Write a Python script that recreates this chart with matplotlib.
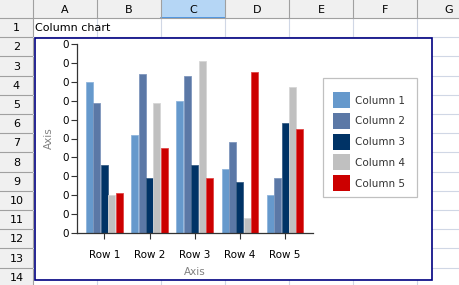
import numpy as np
import matplotlib
matplotlib.use('Agg')
import matplotlib.pyplot as plt
from matplotlib.patches import Rectangle
from matplotlib.ticker import FormatStrFormatter

# chart data (axis shown without decimals)
rows = ['Row 1', 'Row 2', 'Row 3', 'Row 4', 'Row 5']
series = ['Column 1', 'Column 2', 'Column 3', 'Column 4', 'Column 5']
col1 = [0.080, 0.052, 0.070, 0.034, 0.020]
col2 = [0.069, 0.084, 0.083, 0.048, 0.029]
col3 = [0.036, 0.029, 0.036, 0.027, 0.058]
col4 = [0.020, 0.069, 0.091, 0.008, 0.077]
col5 = [0.021, 0.045, 0.029, 0.085, 0.055]
colors = ['#6699cc', '#5b78a6', '#003366', '#c0c0c0', '#cc0000']
edges = ['#8fb5dc', '#7f97bd', '#3a5f86', '#d6d6d6', '#e04848']

# spreadsheet labels
col_names = ['A', 'B', 'C', 'D', 'E', 'F', 'G']
row_names = [str(i) for i in range(1, 15)]

W, H = 460, 285
fig = plt.figure(figsize=(W / 100, H / 100), dpi=100)
plt.rcParams['font.family'] = ['DejaVu Sans']
fs = 7.5

# ---- sheet background drawn in pixel coords
bg = fig.add_axes([0, 0, 1, 1])
bg.set_xlim(0, W)
bg.set_ylim(H, 0)
bg.axis('off')

hdr_h = 18
rh_w = 33
cw = 64
rowh = 19.2

bg.add_patch(Rectangle((0, 0), W, hdr_h, color='#f0f0f0', lw=0))
bg.add_patch(Rectangle((0, 0), rh_w, H, color='#f0f0f0', lw=0))
# highlighted column C
bg.add_patch(Rectangle((rh_w + 2 * cw, 0), cw, hdr_h, color='#b5d6f5', lw=0))
bg.plot([rh_w + 2 * cw, rh_w + 3 * cw], [hdr_h - 0.5, hdr_h - 0.5], color='#3c8be0', lw=1.2)

for i, c in enumerate(col_names):
    x0 = rh_w + i * cw
    bg.text(x0 + cw / 2, hdr_h / 2 + 1, c, ha='center', va='center', fontsize=8)
    bg.plot([x0 + cw, x0 + cw], [0, hdr_h], color='#a0a0a0', lw=0.8)
    bg.plot([x0 + cw, x0 + cw], [hdr_h, H], color='#d0d7e5', lw=0.8)
bg.plot([rh_w, rh_w], [0, H], color='#a0a0a0', lw=0.8)
bg.plot([0, W], [hdr_h, hdr_h], color='#a0a0a0', lw=0.8)

for i, r in enumerate(row_names):
    y0 = hdr_h + i * rowh
    bg.text(rh_w / 2, y0 + rowh / 2 + 0.5, r, ha='center', va='center', fontsize=8)
    bg.plot([0, rh_w], [y0 + rowh, y0 + rowh], color='#a0a0a0', lw=0.8)
    bg.plot([rh_w, W], [y0 + rowh, y0 + rowh], color='#d0d7e5', lw=0.8)

bg.text(rh_w + 2, hdr_h + rowh / 2 + 0.5, 'Column chart', ha='left', va='center', fontsize=8)

# chart frame
bg.add_patch(Rectangle((35, 38), 432 - 35, 280 - 38, facecolor='white',
                       edgecolor='#000080', lw=1.2, zorder=3))
# legend box
bg.add_patch(Rectangle((323, 78), 417 - 323, 197 - 78, facecolor='white',
                       edgecolor='#c0c0c0', lw=0.9, zorder=4))
for i, name in enumerate(series):
    yc = 100 + i * 20.8
    bg.add_patch(Rectangle((333, yc - 8), 17, 16, facecolor=colors[i], lw=0, zorder=5))
    bg.text(355, yc + 0.5, name, ha='left', va='center', fontsize=fs, color='#333333', zorder=5)

# ---- the chart axes
ax = fig.add_axes([77 / W, (H - 233) / H, (313 - 77) / W, (233 - 44) / H])
ax.set_facecolor('none')
ax.set_zorder(5)
x = np.arange(len(rows))
bw = 0.164
vals = [col1, col2, col3, col4, col5]
for i, v in enumerate(vals):
    ax.bar(x + (i - 2) * bw, v, width=bw * 0.94, color=colors[i],
           edgecolor=edges[i], linewidth=0.6)

ax.set_xlim(-0.604, 4.617)
ax.set_ylim(0, 0.1)
ax.set_yticks(np.arange(0, 0.101, 0.01))
ax.yaxis.set_major_formatter(FormatStrFormatter('%.0f'))
ax.set_xticks(x)
ax.set_xticklabels(rows, fontsize=fs)
ax.tick_params(axis='y', labelsize=fs, length=4, width=0.8, color='#333333', pad=2)
ax.tick_params(axis='x', length=4, width=0.8, color='#333333', pad=8)
for s in ['top', 'right']:
    ax.spines[s].set_visible(False)
for s in ['left', 'bottom']:
    ax.spines[s].set_color('#333333')
    ax.spines[s].set_linewidth(0.9)
ax.set_xlabel('Axis', fontsize=fs, color='#808080', labelpad=5)
ax.set_ylabel('Axis', fontsize=fs, color='#808080', labelpad=6)

fig.savefig('out.png', dpi=100)
